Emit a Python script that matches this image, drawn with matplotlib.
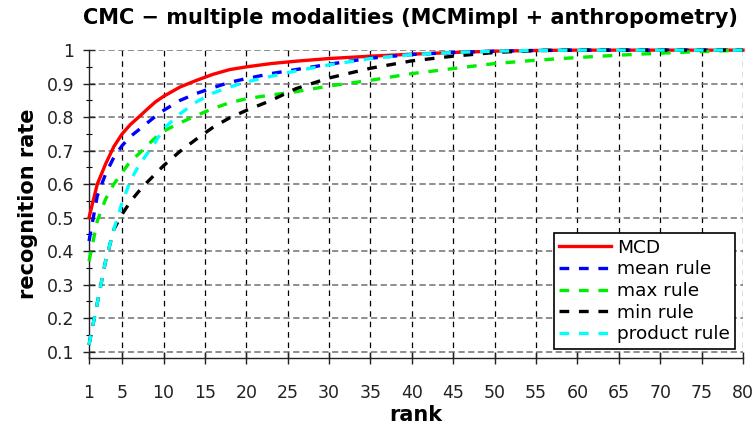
import matplotlib
matplotlib.use("Agg")
import matplotlib.pyplot as plt
from matplotlib.ticker import FixedLocator

plt.rcParams['font.family'] = ['DejaVu Sans']
plt.rcParams['lines.scale_dashes'] = False

# CMC curves sampled at these ranks
ranks = [1, 2, 3, 4, 5, 6, 7, 8, 9, 10, 12, 14, 16, 18, 20, 23, 26, 30,
         35, 40, 45, 50, 55, 60, 65, 70, 75, 80]

mcd = [0.50, 0.60, 0.66, 0.712, 0.75, 0.778, 0.80, 0.823, 0.845, 0.862,
       0.89, 0.91, 0.928, 0.942, 0.95, 0.96, 0.967, 0.975,
       0.982, 0.988, 0.993, 0.997, 0.999, 1.0, 1.0, 1.0, 1.0, 1.0]
mean_rule = [0.43, 0.565, 0.63, 0.68, 0.715, 0.742, 0.762, 0.782, 0.802, 0.82,
             0.85, 0.871, 0.888, 0.904, 0.915, 0.93, 0.942, 0.958,
             0.976, 0.987, 0.993, 0.997, 0.999, 1.0, 1.0, 1.0, 1.0, 1.0]
max_rule = [0.37, 0.49, 0.555, 0.60, 0.635, 0.668, 0.69, 0.715, 0.738, 0.758,
            0.783, 0.805, 0.826, 0.843, 0.855, 0.866, 0.876, 0.893,
            0.91, 0.93, 0.945, 0.96, 0.97, 0.978, 0.985, 0.991, 0.996, 1.0]
min_rule = [0.12, 0.245, 0.37, 0.465, 0.51, 0.548, 0.578, 0.605, 0.63, 0.655,
            0.698, 0.735, 0.77, 0.798, 0.82, 0.85, 0.885, 0.917,
            0.946, 0.968, 0.982, 0.993, 0.999, 1.0, 1.0, 1.0, 1.0, 1.0]
product_rule = [0.12, 0.245, 0.37, 0.465, 0.545, 0.61, 0.655, 0.69, 0.725, 0.765,
                0.81, 0.846, 0.872, 0.89, 0.905, 0.922, 0.938, 0.956,
                0.975, 0.987, 0.993, 0.997, 0.999, 1.0, 1.0, 1.0, 1.0, 1.0]

series = [
    ("MCD", mcd, "#ff0000", None),
    ("mean rule", mean_rule, "#0000ff", (0, (7, 7))),
    ("max rule", max_rule, "#00ee00", (0, (7, 7))),
    ("min rule", min_rule, "#000000", (0, (7, 7))),
    ("product rule", product_rule, "#00ffff", (0, (7, 7))),
]

xticks = [1, 5, 10, 15, 20, 25, 30, 35, 40, 45, 50, 55, 60, 65, 70, 75, 80]
yticks = [0.1, 0.2, 0.3, 0.4, 0.5, 0.6, 0.7, 0.8, 0.9, 1.0]
ytick_labels = ["0.1", "0.2", "0.3", "0.4", "0.5", "0.6", "0.7", "0.8", "0.9", "1"]

fig = plt.figure(figsize=(7.55, 4.25), dpi=100)
ax = fig.add_axes([0.1179, 0.157, 0.8662, 0.725])

for name, vals, color, ls in series:
    kw = dict(color=color, lw=2.4, label=name, clip_on=False, zorder=3)
    if ls is None:
        ax.plot(ranks, vals, linestyle='-', **kw)
    else:
        ax.plot(ranks, vals, linestyle=ls, **kw)

ax.set_xlim(1, 80)
ax.set_ylim(0.08, 1.0)
ax.xaxis.set_major_locator(FixedLocator(xticks))
ax.set_yticks(yticks)
ax.set_yticklabels(ytick_labels)
ax.yaxis.set_minor_locator(FixedLocator([v + 0.05 for v in yticks[:-1]]))

for side in ("top", "right"):
    ax.spines[side].set_visible(False)
for side in ("left", "bottom"):
    ax.spines[side].set_linewidth(1.0)
    ax.spines[side].set_color("#222222")

# vertical grid: black dashes, horizontal grid: grey dashes
for x in xticks[1:]:
    ax.axvline(x, color="#000000", lw=0.9, linestyle=(0, (4, 3.5)), zorder=1)
for y in yticks:
    ax.axhline(y, color="#707070", lw=1.1, linestyle=(0, (4.5, 2.5)), zorder=1)

ax.tick_params(axis='both', which='major', direction='inout', length=9,
               width=1.0, labelsize=12.5, colors="#222222")
ax.tick_params(axis='x', which='major', pad=14)
ax.tick_params(axis='y', which='major', pad=6)
ax.tick_params(axis='y', which='minor', direction='inout', length=5, width=0.8)

ax.set_xlabel("rank", fontsize=15, fontweight='bold', labelpad=2)
ax.set_ylabel("recognition rate", fontsize=15, fontweight='bold', labelpad=6)
fig.text(0.543, 0.958, "CMC \u2212 multiple modalities (MCMimpl + anthropometry)",
         ha='center', va='center', fontsize=15, fontweight='bold')

leg = ax.legend(loc='lower right', bbox_to_anchor=(0.988, 0.03), fontsize=13.3,
                frameon=True, fancybox=False, edgecolor='black', framealpha=1,
                handlelength=2.8, handletextpad=0.3, borderpad=0.3,
                labelspacing=0.2, borderaxespad=0)
leg.get_frame().set_linewidth(1.2)
leg.set_zorder(5)

fig.savefig("out.png", dpi=100)
